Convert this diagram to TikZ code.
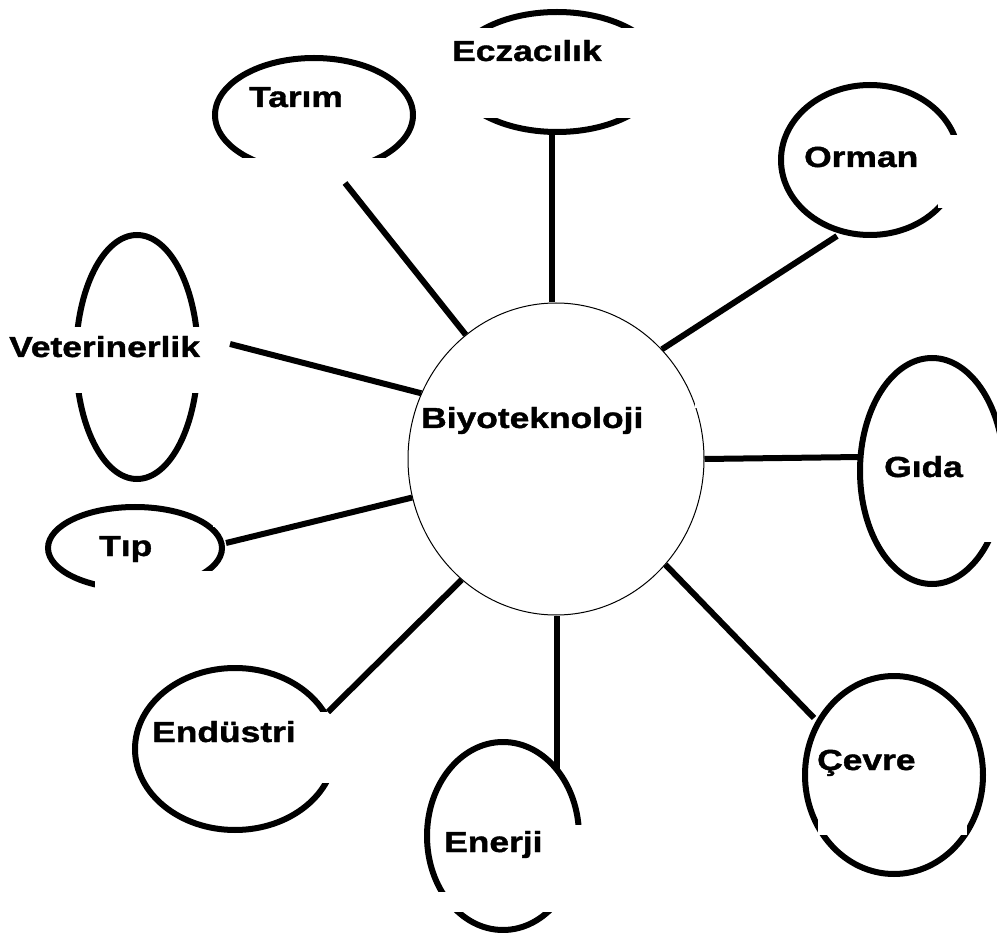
\documentclass[tikz,border=0pt]{standalone}
\usepackage{graphicx}
\usepackage{fontspec}
\setmainfont{Liberation Sans}[BoldFeatures={FakeBold=1.2}]
\usetikzlibrary{shapes.geometric}
\newcommand\wide[1]{\scalebox{1.22}[1]{#1}}
\begin{document}
\begin{tikzpicture}[x=1pt,y=-1pt,
  outer/.style={ellipse,draw,line width=6pt,inner sep=0pt},
  gap/.style={fill=white,draw=none},
  link/.style={line width=6pt},
  lab/.style={anchor=base west,inner sep=0pt,font=\fontsize{29}{31}\selectfont\bfseries}]
\useasboundingbox (0,0) rectangle (997,933);
\fill[white] (0,0) rectangle (997,933);

% central
\node[ellipse,draw,line width=1pt,inner sep=0pt,minimum width=296pt,minimum height=312pt] (bio) at (556,459) {};

% outer ellipses
\node[outer,minimum width=210pt,minimum height=120pt] (ecz) at (557,72) {};
\node[outer,minimum width=198pt,minimum height=114pt] (tar) at (314,115) {};
\node[outer,minimum width=178pt,minimum height=150pt] (orm) at (870,160) {};
\node[outer,minimum width=122pt,minimum height=244pt] (vet) at (137,357) {};
\node[outer,minimum width=174pt,minimum height=82pt] (tip) at (135,548) {};
\node[outer,minimum width=144pt,minimum height=226pt] (gid) at (932,471) {};
\node[outer,minimum width=178pt,minimum height=198pt] (cev) at (894,775) {};
\node[outer,minimum width=200pt,minimum height=162pt] (end) at (235,749) {};
\node[outer,minimum width=152pt,minimum height=188pt] (ene) at (503,836) {};

% gaps left by the text boxes
\fill[gap] (440,28) rectangle (675,118);
\fill[gap] (200,158) rectangle (430,185);
\fill[gap] (938,135) rectangle (975,208);
\fill[gap] (60,327) rectangle (215,393);
\fill[gap] (95,571) rectangle (240,600);
\fill[gap] (213,495) rectangle (240,527);
\fill[gap] (975,440) rectangle (1010,542);
\fill[gap] (818,760) rectangle (967,835);
\fill[gap] (315,712) rectangle (345,783);
\fill[gap] (415,892) rectangle (600,912);
\fill[gap] (540,825) rectangle (600,912);
\fill[gap] (695,399) rectangle (712,408);

% connector ends
\coordinate (tarE) at (345,183);
\coordinate (eczE) at (552,130);
\coordinate (ormE) at (837,236);
\coordinate (vetE) at (230,344);
\coordinate (gidE) at (860,457);
\coordinate (tipE) at (226,543);
\coordinate (endE) at (328,712);
\coordinate (eneE) at (557,770);
\coordinate (cevE) at (814,718);

\draw[link] (bio.126.8) -- (tarE);
\draw[link] (eczE) -- (eczE |- bio.north);
\draw[link] (bio.46.9) -- (ormE);
\draw[link] (bio.154.3) -- (vetE);
\draw[link] (bio.0.8) -- (gidE);
\draw[link] (bio.195.1) -- (tipE);
\draw[link] (bio.232.2) -- (endE);
\draw[link] (eneE) -- (eneE |- bio.south);
\draw[link] (bio.316.1) -- (cevE);

% labels
\node[lab] (tBio) at (421,428) {\wide{Biyoteknoloji}};
\node[lab] (tEcz) at (452,61) {\wide{Eczacılık}};
\node[lab] (tTar) at (249,107) {\wide{Tarım}};
\node[lab] (tOrm) at (804,167) {\wide{Orman}};
\node[lab] (tVet) at (9,357) {\wide{Veterinerlik}};
\node[lab] (tGid) at (884,477) {\wide{Gıda}};
\node[lab] (tTip) at (99,556) {\wide{Tıp}};
\node[lab] (tEnd) at (152,742) {\wide{Endüstri}};
\node[lab] (tCev) at (817,770) {\wide{Çevre}};
\node[lab] (tEne) at (444,852) {\wide{Enerji}};
\end{tikzpicture}
\end{document}
